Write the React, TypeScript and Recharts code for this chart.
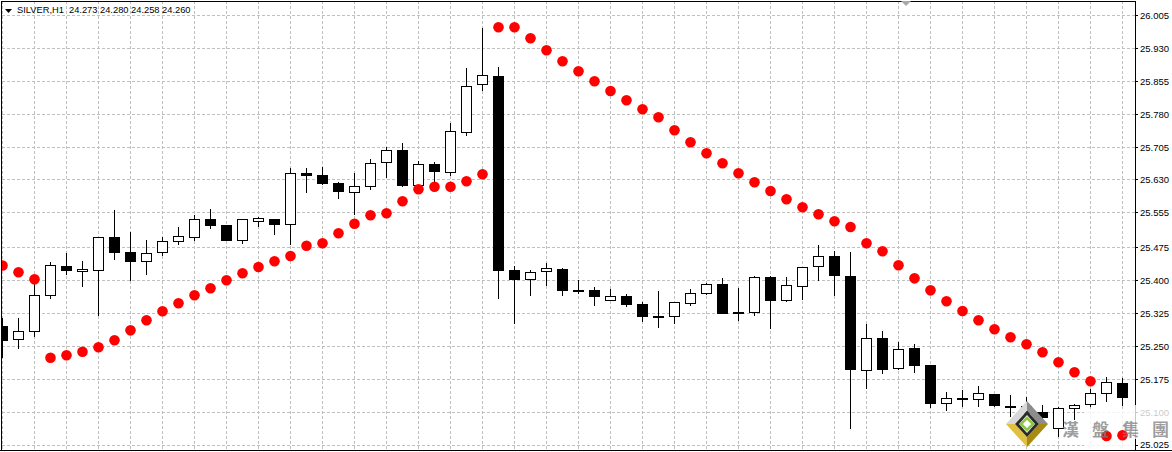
import { ComposedChart, Bar, Line, XAxis, YAxis, CartesianGrid, ReferenceArea } from 'recharts'

// SILVER H1 bars, oldest first
const opens = [
  25.2950, 25.2663, 25.2845, 25.3667, 25.4330, 25.4207, 25.4238, 25.4992, 25.4656, 25.4444,
  25.4649, 25.4900, 25.4992, 25.5402, 25.5259, 25.4923, 25.5357, 25.5402, 25.5288, 25.6453,
  25.6407, 25.6231, 25.6022, 25.6160, 25.6704, 25.6978, 25.6174, 25.6658, 25.6475, 25.7389,
  25.8485, 25.8667, 25.4238, 25.4032, 25.4216, 25.4246, 25.3781, 25.3781, 25.3544, 25.3644,
  25.3462, 25.3195, 25.3188, 25.3485, 25.3704, 25.3918, 25.3283, 25.3279, 25.4085, 25.3544,
  25.3873, 25.4330, 25.4542, 25.4108, 25.1946, 25.2686, 25.2001, 25.2458, 25.2070, 25.1193,
  25.1310, 25.1293, 25.1408, 25.1126, 25.1124, 25.0981, 25.0631, 25.1087, 25.1186, 25.1431,
  25.1659,
]
const highs = [
  25.3149, 25.3142, 25.3948, 25.4421, 25.4627, 25.4451, 25.5000, 25.5615, 25.5113, 25.4930,
  25.5006, 25.5220, 25.5501, 25.5638, 25.5272, 25.5405, 25.5448, 25.5405, 25.6567, 25.6567,
  25.6589, 25.6254, 25.6466, 25.6779, 25.7046, 25.7144, 25.6733, 25.6704, 25.7601, 25.8850,
  25.9763, 25.8872, 25.4337, 25.4238, 25.4398, 25.4284, 25.4017, 25.3849, 25.3804, 25.3690,
  25.3514, 25.3765, 25.3511, 25.3811, 25.3941, 25.4055, 25.3827, 25.4115, 25.4115, 25.4085,
  25.4312, 25.4816, 25.4679, 25.4656, 25.3012, 25.2853, 25.2595, 25.2549, 25.2074, 25.1452,
  25.1507, 25.1598, 25.1413, 25.1385, 25.1353, 25.1163, 25.1124, 25.1179, 25.1522, 25.1802,
  25.1773,
]
const lows = [
  25.2236, 25.2449, 25.2722, 25.3576, 25.4138, 25.3864, 25.3202, 25.4474, 25.4001, 25.4138,
  25.4565, 25.4823, 25.4914, 25.5188, 25.4905, 25.4846, 25.5234, 25.5044, 25.4823, 25.6010,
  25.6192, 25.5873, 25.5508, 25.6071, 25.6345, 25.6151, 25.6113, 25.6151, 25.6398, 25.7311,
  25.8338, 25.3583, 25.3012, 25.3658, 25.3880, 25.3651, 25.3697, 25.3430, 25.3540, 25.3407,
  25.3052, 25.2917, 25.3012, 25.3430, 25.3667, 25.3240, 25.3081, 25.3202, 25.2907, 25.3508,
  25.3567, 25.4001, 25.3658, 25.0622, 25.1535, 25.1864, 25.1955, 25.1901, 25.1101, 25.1033,
  25.1124, 25.1124, 25.1124, 25.0883, 25.0707, 25.0707, 25.0426, 25.0821, 25.1111, 25.1239,
  25.1147,
]
const closes = [
  25.2647, 25.2845, 25.3674, 25.4352, 25.4229, 25.4261, 25.4992, 25.4640, 25.4435, 25.4611,
  25.4900, 25.4999, 25.5402, 25.5256, 25.4914, 25.5402, 25.5425, 25.5279, 25.6453, 25.6407,
  25.6215, 25.6041, 25.6160, 25.6681, 25.6978, 25.6174, 25.6658, 25.6489, 25.7411, 25.8439,
  25.8690, 25.4229, 25.4032, 25.4193, 25.4268, 25.3772, 25.3749, 25.3635, 25.3644, 25.3453,
  25.3179, 25.3165, 25.3507, 25.3713, 25.3918, 25.3248, 25.3275, 25.4069, 25.3544, 25.3880,
  25.4307, 25.4558, 25.4115, 25.1969, 25.2686, 25.1969, 25.2435, 25.2061, 25.1193, 25.1307,
  25.1303, 25.1431, 25.1147, 25.1121, 25.0958, 25.0867, 25.1087, 25.1163, 25.1431, 25.1681,
  25.1339,
]
// parabolic SAR
const sar = [
  25.4348, 25.4193, 25.4032, 25.2243, 25.2298, 25.2380, 25.2480, 25.2640, 25.2868, 25.3097,
  25.3302, 25.3485, 25.3670, 25.3827, 25.4010, 25.4170, 25.4314, 25.4444, 25.4565, 25.4800,
  25.4855, 25.5083, 25.5302, 25.5496, 25.5539, 25.5813, 25.6087, 25.6146, 25.6146, 25.6270,
  25.6430, 25.9786, 25.9786, 25.9535, 25.9261, 25.9010, 25.8781, 25.8553, 25.8331, 25.8119,
  25.7914, 25.7731, 25.7434, 25.7160, 25.6909, 25.6681, 25.6453, 25.6250, 25.6049, 25.5859,
  25.5676, 25.5517, 25.5357, 25.5227, 25.4855, 25.4672, 25.4352, 25.4055, 25.3781, 25.3531,
  25.3309, 25.3097, 25.2891, 25.2709, 25.2549, 25.2366, 25.2138, 25.1910, 25.1704, 25.0456,
  25.0472,
]

const priceTicks = [
  26.005, 25.930, 25.855, 25.780, 25.705, 25.630, 25.555,
  25.475, 25.400, 25.325, 25.250, 25.175, 25.100, 25.025,
]
const gridBars = [
  0, 2, 4, 6, 8, 10, 12, 14, 16, 18, 20, 22, 24, 26, 28, 30, 32, 34,
  36, 38, 40, 42, 44, 46, 48, 50, 52, 54, 56, 58, 60, 62, 64, 66, 68, 70,
]

const data = opens.map((o, i) => ({
  i,
  o,
  h: highs[i],
  l: lows[i],
  c: closes[i],
  range: [lows[i], highs[i]],
  sar: sar[i],
}))

const FONT = '"Liberation Sans", Arial, sans-serif'

function Candle(props: any) {
  const { x, y, width, height, payload } = props
  if (x == null || !payload) return null
  const { o, h, l, c } = payload
  const top = Math.min(y, y + height)
  const span = Math.abs(height)
  const k = span / (h - l)
  const py = (v: number) => top + (h - v) * k
  const cx = Math.round(x + width / 2 - 0.5) + 0.5
  const up = c >= o
  const bTop = py(Math.max(o, c))
  const bh = Math.max(py(Math.min(o, c)) - bTop, 1)
  return (
    <g shapeRendering="crispEdges">
      <line x1={cx} x2={cx} y1={top} y2={top + span} stroke="#000" />
      <rect x={cx - 5} y={bTop} width={10} height={bh} fill={up ? '#fff' : '#000'} stroke="#000" />
    </g>
  )
}

function Logo() {
  // watermark diamond
  return (
    <svg width={46} height={50} style={{ position: 'absolute', left: 1005, top: 400 }}>
      <polygon points="1,24 22,1 22,11 10,24" fill="#d8d8d8" />
      <polygon points="22,1 43,24 34,24 22,11" fill="#8c8c8c" />
      <polygon points="43,24 22,47 22,37 34,24" fill="#a88a10" />
      <polygon points="22,47 1,24 10,24 22,37" fill="#e0c040" />
      <polygon points="22,11 34,24 22,37 10,24" fill="#2a2a2a" />
      <polygon points="22,15 30,24 22,33 14,24" fill="#f4f4f4" />
      <polygon points="22,18 28,24 22,30 16,24" fill="#fff" stroke="#8dc63f" strokeWidth={2.5} />
    </svg>
  )
}

export default function App() {
  return (
    <div style={{ position: 'absolute', left: 0, top: 0, width: 1172, height: 452, background: '#fff', overflow: 'hidden' }}>
      <style>{`.recharts-cartesian-grid line, .recharts-cartesian-axis-tick-line { shape-rendering: crispEdges; }`}</style>
      <ComposedChart width={1172} height={452} data={data} margin={{ top: 1, right: 0, bottom: 2, left: 2 }}>
        <CartesianGrid stroke="#c0c0c0" strokeDasharray="3 2" />
        <XAxis
          dataKey="i"
          type="number"
          domain={[-0.03125, 70.78125]}
          allowDataOverflow
          ticks={gridBars}
          hide
        />
        <YAxis
          orientation="right"
          type="number"
          domain={[25.0136, 26.0386]}
          allowDataOverflow
          ticks={priceTicks}
          interval={0}
          width={37}
          axisLine={false}
          tickLine={{ stroke: '#000' }}
          tickSize={3}
          tickMargin={2}
          tick={{ fill: '#000', fontSize: 9.5, fontFamily: FONT, textAnchor: 'start' }}
          tickFormatter={(v: number) => v.toFixed(3)}
        />
        <Bar dataKey="range" barSize={10} shape={Candle} isAnimationActive={false} />
        <ReferenceArea
          x1={67.6}
          x2={72.3}
          y1={25.0136}
          y2={25.107}
          ifOverflow="visible"
          fill="#fff"
          fillOpacity={0.8}
          stroke="none"
        />
        <Line
          dataKey="sar"
          stroke="none"
          dot={{ r: 5.3, fill: '#ff0000', stroke: 'none' }}
          activeDot={false}
          isAnimationActive={false}
        />
      </ComposedChart>

      {/* chart frame */}
      <div style={{ position: 'absolute', left: 1, top: 1, width: 1135, height: 450, boxSizing: 'border-box', border: '1px solid #000' }} />
      <div style={{ position: 'absolute', left: 0, top: 450, width: 1172, height: 1, background: '#000' }} />
      {/* watermark haze over the price scale */}
      <div style={{ position: 'absolute', left: 1134, top: 405, width: 38, height: 34, background: 'rgba(255,255,255,0.78)' }} />

      {/* symbol caption */}
      <svg width={8} height={6} style={{ position: 'absolute', left: 5, top: 9 }}>
        <polygon points="0,0 7,0 3.5,4" fill="#000" />
      </svg>
      <div style={{ position: 'absolute', left: 17, top: 5, fontFamily: FONT, fontSize: 9.3, lineHeight: '11px', color: '#000', whiteSpace: 'pre' }}>
        {'SILVER,H1  24.273 24.280 24.258 24.260'}
      </div>
      <svg width={12} height={7} style={{ position: 'absolute', left: 900, top: 1 }}>
        <polygon points="1,0 11,0 6,5" fill="#a8a8a8" />
      </svg>

      {/* watermark */}
      <Logo />
      {['漢', '盤', '集', '團'].map((ch, n) => (
        <span
          key={ch}
          style={{
            position: 'absolute',
            left: 1062 + n * 30,
            top: 419,
            fontFamily: '"Noto Sans CJK TC", sans-serif',
            fontSize: 17,
            fontWeight: 700,
            lineHeight: '20px',
            color: 'rgba(125,125,125,0.75)',
          }}
        >
          {ch}
        </span>
      ))}
    </div>
  )
}
